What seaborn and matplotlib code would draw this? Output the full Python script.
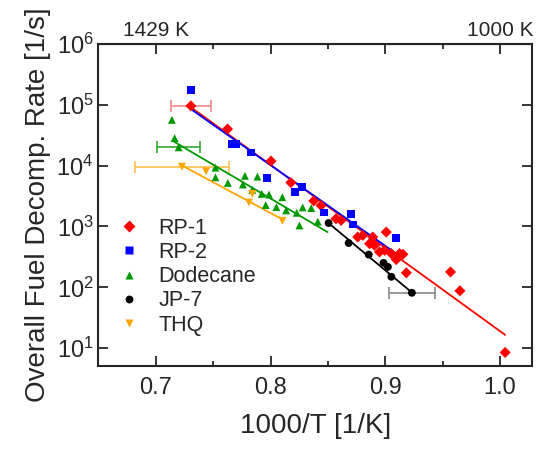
import numpy as np
import pandas as pd
import seaborn as sns
import matplotlib.pyplot as plt

# 1000/T [1/K] and decomposition rate [1/s]
rp1_x = [0.7306, 0.7625, 0.8004, 0.8177, 0.8377, 0.8440, 0.8571, 0.8615, 0.8760, 0.8804,
         0.8891, 0.8863, 0.8906, 0.8950, 0.9009, 0.8994, 0.9053, 0.9125, 0.9154, 0.9096,
         0.9184, 0.9569, 0.9651, 1.0045]
rp1_k = [9.6e4, 4.0e4, 1.19e4, 5270, 2640, 2210, 1340, 1260, 671, 714,
         671, 522, 491, 381, 809, 406, 359, 359, 349, 286,
         173, 179, 87.7, 8.5]

rp2_x = [0.7304, 0.7666, 0.7698, 0.7827, 0.7969, 0.8210, 0.8273, 0.8468, 0.8702, 0.8716, 0.9096]
rp2_k = [1.73e5, 2.26e4, 2.26e4, 1.65e4, 6300, 3660, 4420, 1700, 1620, 1080, 656]

dod_x = [0.7140, 0.7164, 0.7199, 0.7520, 0.7520, 0.7628, 0.7777, 0.7886, 0.7759, 0.7841,
         0.7923, 0.7987, 0.8103, 0.7958, 0.8051, 0.8136, 0.8228, 0.8280, 0.8355, 0.8252, 0.8412]
dod_k = [5.66e4, 2.84e4, 2.0e4, 9270, 6440, 5200, 6800, 6600, 4900, 4000,
         3440, 3350, 3030, 2250, 2080, 1840, 1680, 2060, 2010, 1040, 1200]

jp7_x = [0.8506, 0.8681, 0.8856, 0.8985, 0.9023, 0.9053, 0.9232]
jp7_k = [1140, 535, 345, 252, 217, 149, 81.3]

thq_x = [0.7228, 0.7438, 0.7841, 0.7812, 0.8103]
thq_k = [9600, 8070, 3440, 2480, 1240]

fuels = ['RP-1', 'RP-2', 'Dodecane', 'JP-7', 'THQ']
colors = ['#ff0000', '#0000ff', '#009900', '#000000', '#ffa500']
markers = ['D', 's', '^', 'o', 'v']

# Arrhenius fits: log10(k) = a + b * (1000/T), drawn over [fit_lo, fit_hi]
fit_a = [14.94, 14.625, 12.348, 16.41, 11.31]
fit_b = [-13.66, -13.27, -11.11, -15.70, -10.11]
fit_lo = [0.7306, 0.7306, 0.7146, 0.8506, 0.7228]
fit_hi = [1.0045, 0.9096, 0.8497, 0.9236, 0.8118]

# horizontal uncertainty bars (one point per fuel)
err_x = [0.7306, 0.7199, 0.9232, 0.7228]
err_k = [9.6e4, 2.0e4, 81.3, 9600]
err_dx = [0.0173, 0.0187, 0.0200, 0.0407]
err_col = ['#f08a8a', '#33aa33', '#888888', '#ffc04d']

df = pd.concat([
    pd.DataFrame({'x': rp1_x, 'k': rp1_k, 'fuel': 'RP-1'}),
    pd.DataFrame({'x': rp2_x, 'k': rp2_k, 'fuel': 'RP-2'}),
    pd.DataFrame({'x': dod_x, 'k': dod_k, 'fuel': 'Dodecane'}),
    pd.DataFrame({'x': jp7_x, 'k': jp7_k, 'fuel': 'JP-7'}),
    pd.DataFrame({'x': thq_x, 'k': thq_k, 'fuel': 'THQ'}),
])

sns.set_style('ticks')
plt.rcParams['font.family'] = ['Liberation Sans', 'DejaVu Sans']

fig = plt.figure(figsize=(5.38, 4.49), dpi=100)
ax = fig.add_axes([0.183, 0.185, 0.806, 0.717])

for i in range(len(err_x)):
    ax.errorbar(err_x[i], err_k[i], xerr=err_dx[i], fmt='none', ecolor=err_col[i],
                elinewidth=1.2, capsize=4, capthick=1.2, zorder=1)

for i, f in enumerate(fuels):
    xx = np.linspace(fit_lo[i], fit_hi[i], 50)
    ax.plot(xx, 10 ** (fit_a[i] + fit_b[i] * xx), color=colors[i], lw=1.3, zorder=2)

sns.scatterplot(data=df, x='x', y='k', hue='fuel', style='fuel',
                palette=dict(zip(fuels, colors)), markers=dict(zip(fuels, markers)),
                s=32, edgecolor='none', ax=ax, zorder=3)

ax.set_yscale('log')
ax.set_xlim(0.65, 1.028)
ax.set_ylim(5.1, 1e6)
ax.set_yticks([1e1, 1e2, 1e3, 1e4, 1e5, 1e6])
ax.yaxis.set_minor_locator(plt.NullLocator())
ax.set_xticks([0.7, 0.8, 0.9, 1.0])
ax.set_xticklabels(['0.7', '0.8', '0.9', '1.0'])
ax.set_xticks([0.75, 0.85, 0.95], minor=True)
ax.tick_params(which='both', direction='in', top=True, right=True, width=1.3, labelsize=17)
ax.tick_params(which='major', length=7)
ax.tick_params(which='minor', length=3.5)
ax.tick_params(axis='x', which='major', pad=8)
for sp in ax.spines.values():
    sp.set_linewidth(1.5)

ax.set_xlabel('1000/T [1/K]', fontsize=20, labelpad=10)
ax.set_ylabel('Overall Fuel Decomp. Rate [1/s]', fontsize=20, labelpad=4)

top = ax.secondary_xaxis('top')
top.set_xticks([0.7, 1.0])
top.set_xticklabels(['1429 K', '1000 K'])
top.tick_params(length=0, labelsize=15, pad=3)

ax.legend(loc='upper left', bbox_to_anchor=(0.0, 0.487), frameon=False, fontsize=15.5,
          handletextpad=0.4, labelspacing=0.15, markerscale=1.0, borderaxespad=0)

fig.savefig('out.png', dpi=100)
